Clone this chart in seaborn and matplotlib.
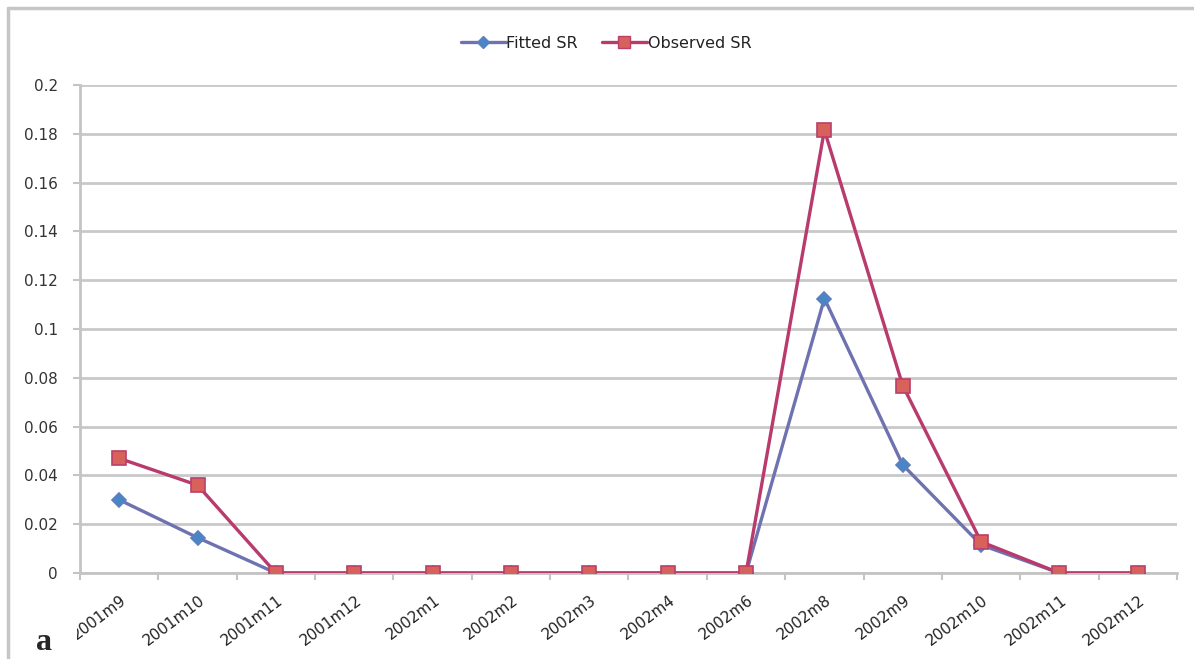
import matplotlib
matplotlib.use("Agg")
import matplotlib.pyplot as plt
from matplotlib.lines import Line2D
from matplotlib.transforms import Bbox, ScaledTranslation
import numpy as np
import pandas as pd
import seaborn as sns

# Monthly periods and the two stranding-rate series
months = ["2001m9", "2001m10", "2001m11", "2001m12", "2002m1", "2002m2", "2002m3",
          "2002m4", "2002m6", "2002m8", "2002m9", "2002m10", "2002m11", "2002m12"]
fitted_sr = [0.030, 0.0145, 0.0, 0.0, 0.0, 0.0, 0.0, 0.0, 0.0, 0.1125, 0.0443, 0.0115, 0.0, 0.0]
observed_sr = [0.047, 0.036, 0.0, 0.0, 0.0, 0.0, 0.0, 0.0, 0.0, 0.1815, 0.0768, 0.0128, 0.0, 0.0]
y_ticks = [0, 0.02, 0.04, 0.06, 0.08, 0.1, 0.12, 0.14, 0.16, 0.18, 0.2]
y_tick_labels = ["0", "0.02", "0.04", "0.06", "0.08", "0.1", "0.12", "0.14", "0.16", "0.18", "0.2"]

series_names = ["Fitted SR", "Observed SR"]
df = pd.DataFrame({
    "month": months * 2,
    "pos": list(range(len(months))) * 2,
    "value": fitted_sr + observed_sr,
    "series": [series_names[0]] * len(months) + [series_names[1]] * len(months),
})

sns.set_theme(style="white")
plt.rcParams["font.family"] = ["DejaVu Sans"]

line_colors = {"Fitted SR": "#6f72b0", "Observed SR": "#b93a6c"}
face_colors = {"Fitted SR": "#4a86c5", "Observed SR": "#d8615b"}
edge_colors = {"Fitted SR": "#5d7fc0", "Observed SR": "#b9406a"}
marker_shapes = {"Fitted SR": "D", "Observed SR": "s"}
marker_sizes = {"Fitted SR": 7.5, "Observed SR": 10.5}

fig = plt.figure(figsize=(11.94, 6.59), dpi=100)
ax = fig.add_axes([80 / 1194, 1 - 573 / 659, (1177 - 80) / 1194, (573 - 85) / 659])

for name in series_names:
    sub = df[df["series"] == name]
    sns.lineplot(data=sub, x="pos", y="value", ax=ax, color=line_colors[name],
                 linewidth=2.4, marker=marker_shapes[name], markersize=marker_sizes[name],
                 markerfacecolor=face_colors[name], markeredgecolor=edge_colors[name],
                 markeredgewidth=1.2, sort=False, legend=False, zorder=3)

ax.set_xlim(-0.5, len(months) - 0.5)
ax.set_ylim(0, 0.2)
ax.set_xlabel("")
ax.set_ylabel("")

# gridlines and axes styling
ax.set_yticks(y_ticks)
ax.set_yticklabels(y_tick_labels)
ax.yaxis.grid(True, color="#c9c9c9", linewidth=2.0)
ax.xaxis.grid(False)
for side in ["top", "right"]:
    ax.spines[side].set_visible(False)
for side in ["left", "bottom"]:
    ax.spines[side].set_color("#c4c4c4")
    ax.spines[side].set_linewidth(2.0)
ax.spines["bottom"].set_zorder(2)

ax.tick_params(axis="y", which="major", left=True, length=5, width=1.5, color="#c4c4c4",
               labelsize=11, labelcolor="#333333", pad=11)
ax.set_xticks(range(len(months)))
ax.set_xticklabels(months, rotation=37, ha="right", rotation_mode="anchor")
ax.set_xticks(np.arange(-0.5, len(months), 1.0), minor=True)
ax.tick_params(axis="x", which="major", bottom=False, labelsize=11, labelcolor="#222222", pad=8)
ax.tick_params(axis="x", which="minor", bottom=True, length=5, width=1.5, color="#c4c4c4")
for lbl in ax.get_xticklabels():
    lbl.set_transform(lbl.get_transform() + ScaledTranslation(1 / 100, 0, fig.dpi_scale_trans))

# first label is cut off at the chart's left edge
first = ax.get_xticklabels()[0]
first.set_clip_on(True)
first.set_clip_box(Bbox.from_extents(77, 0, 1194, 659))

# legend
handles = [Line2D([0], [0], color=line_colors[n], linewidth=2.4, marker=marker_shapes[n],
                  markersize=marker_sizes[n] - 1.5, markerfacecolor=face_colors[n],
                  markeredgecolor=edge_colors[n]) for n in series_names]
fig.legend(handles, series_names, loc="center", bbox_to_anchor=(606 / 1194, 1 - 43 / 659),
           ncol=2, frameon=False, fontsize=11.5, handlelength=2.8, handletextpad=0.05,
           columnspacing=1.5, labelcolor="#222222")

# chart frame
fig.add_artist(Line2D([8 / 1194, 1.0], [1 - 8 / 659, 1 - 8 / 659], color="#c6c6c6", linewidth=2.5))
fig.add_artist(Line2D([8 / 1194, 8 / 1194], [0, 1 - 8 / 659], color="#c6c6c6", linewidth=2.5))

# panel letter
fig.text(36 / 1194, 1 - 650 / 659, "a", fontsize=23, fontweight="bold",
         family=["Liberation Serif", "DejaVu Serif"], va="baseline", ha="left")

fig.savefig("out.png", dpi=100)
